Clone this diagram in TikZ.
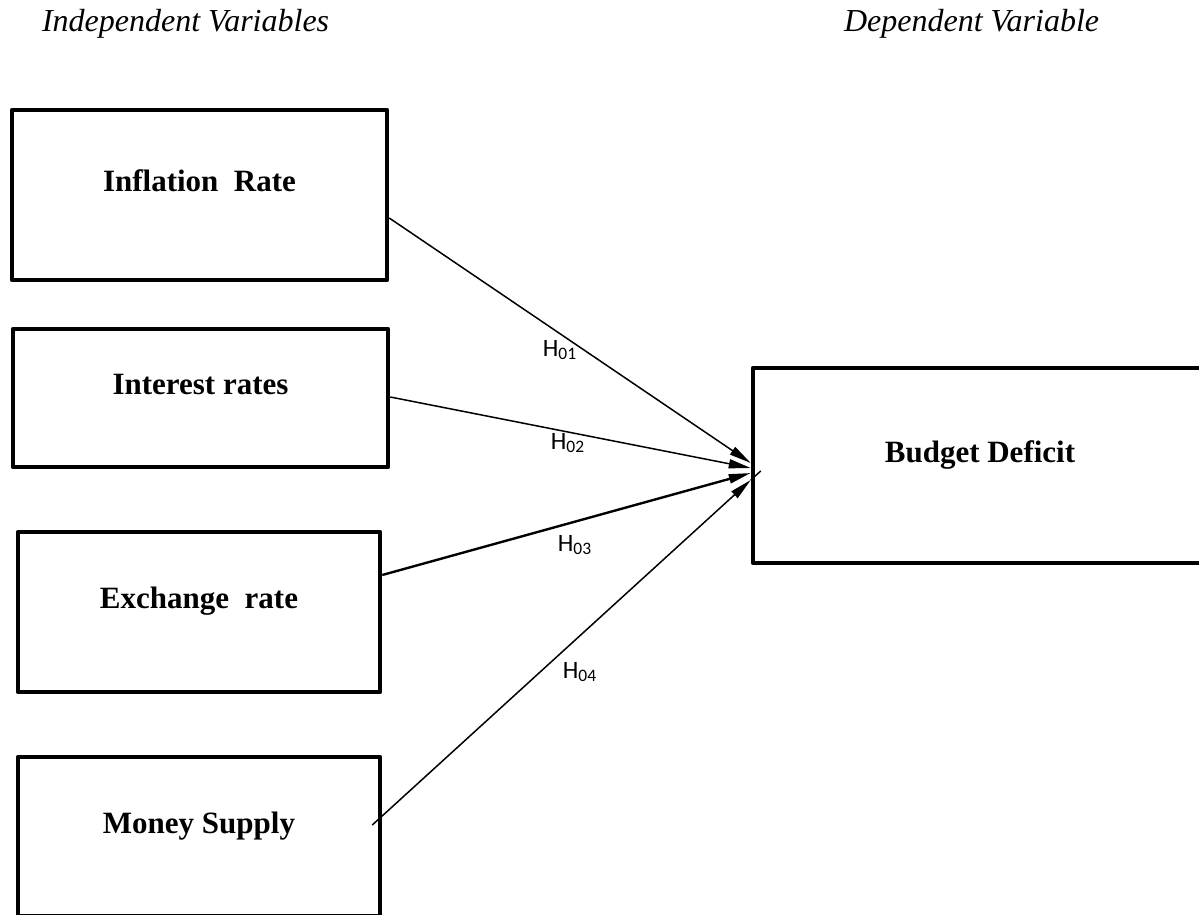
\documentclass[tikz,border=0pt]{standalone}
\usepackage{fontspec}
\setmainfont{Liberation Serif}
\newfontfamily\hfont{Carlito}
\usetikzlibrary{arrows.meta,positioning}

\begin{document}
\begin{tikzpicture}[x=0.5pt,y=-0.5pt,
    box/.style={draw, line width=2.25pt, line join=round, inner sep=0pt,
      font=\bfseries\fontsize{15.5}{18}\selectfont, text depth=14pt},
    head/.style={anchor=base west, font=\itshape\fontsize{16}{19}\selectfont},
    hyp/.style={font=\hfont\fontsize{12.5}{15}\selectfont},
    conn/.style={-{Triangle[length=11pt,width=4.5pt]}, line width=0.75pt}]
  \useasboundingbox (0,0) rectangle (1199,915);
  \node (IV) [head] at (35,32) {Independent Variables};
  \node (DV) [head] at (837,32) {Dependent Variable};
  \node (IR) [box, minimum width=187.5pt, minimum height=85pt] at (199.5,195) {Inflation\ \ Rate};
  \node (INT) [box, minimum width=187.5pt, minimum height=69pt] at (200.5,398) {Interest rates};
  \node (EX) [box, minimum width=181pt, minimum height=80pt] at (199,612) {Exchange\ \ rate};
  \node (MS) [box, minimum width=181pt, minimum height=79.5pt] at (199,836.5) {Money Supply};
  \node (BD) [box, minimum width=227pt, minimum height=97.5pt] at (980,465.5) {Budget Deficit};
  % arrow ends on the left side of BD
  \coordinate (T1) at ([yshift=1.25pt]BD.west);
  \coordinate (T2) at ([yshift=-1.25pt]BD.west);
  \coordinate (T3) at ([yshift=-3.75pt]BD.west);
  \coordinate (T4) at ([yshift=-7.25pt]BD.west);
  \draw [conn] ([yshift=-11.5pt]IR.east) -- (T1);
  \draw [conn] ([yshift=0.5pt]INT.east) -- (T2);
  \draw [conn, line width=1.2pt] ([yshift=18.5pt]EX.east) -- (T3);
  \draw [conn] ([xshift=-5pt,yshift=5.75pt]MS.east) -- (T4);
  \draw [line width=0.75pt] (T4) -- ++(10,-9);
  \node (H1) [hyp] at (560,350) {H\textsubscript{01}};
  \node (H2) [hyp] at (568,443) {H\textsubscript{02}};
  \node (H3) [hyp] at (575,545) {H\textsubscript{03}};
  \node (H4) [hyp] at (580,672) {H\textsubscript{04}};
\end{tikzpicture}
\end{document}
